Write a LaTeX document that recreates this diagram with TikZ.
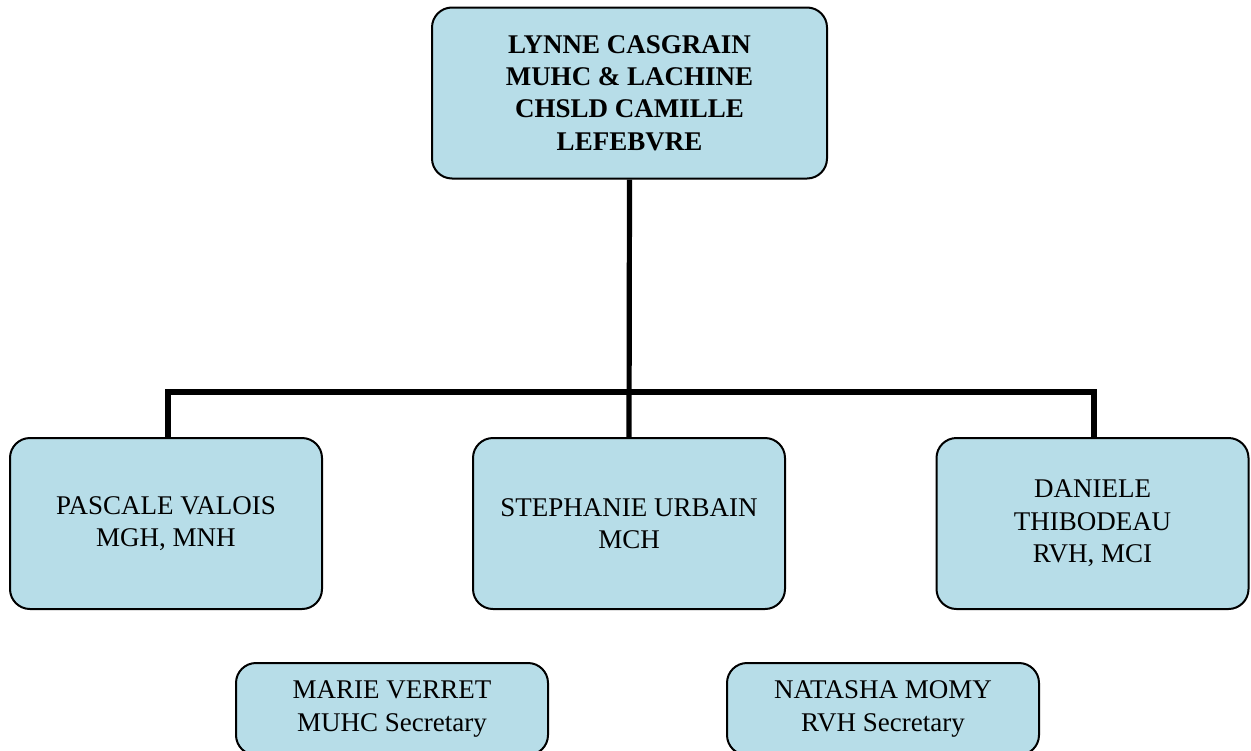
\documentclass[tikz,border=0pt]{standalone}
\usepackage{fontspec}
\setmainfont{Liberation Serif}
\usetikzlibrary{calc}
\definecolor{boxblue}{HTML}{B7DDE8}

\begin{document}
\begin{tikzpicture}[x=0.5pt,y=-0.5pt,
    person/.style={draw=black, line width=1pt, fill=boxblue, rounded corners=10pt,
      align=center, minimum width=156pt, minimum height=85.5pt, inner sep=0pt,
      font=\fontsize{13.5}{16.2}\selectfont},
    link/.style={line width=2.6pt}]
    \useasboundingbox (0,0) rectangle (1251,750);
    \clip (0,0) rectangle (1251,750);
    \node[person, minimum width=197.5pt, font=\fontsize{13.5}{16.2}\selectfont\bfseries] (head) at (629.5,93)
      {LYNNE CASGRAIN\\MUHC \& LACHINE\\CHSLD CAMILLE\\LEFEBVRE};
    \node[person] (valois) at (166,523.5) {PASCALE VALOIS\\MGH, MNH};
    \node[person] (urbain) at (629,523.5) {STEPHANIE URBAIN\\MCH};
    \node[person] (thibodeau) at (1092.5,523.5) {DANIELE\\THIBODEAU\\RVH, MCI};
    \node[person, minimum height=46pt] (verret) at (392,709) {MARIE VERRET\\MUHC Secretary};
    \node[person, minimum height=46pt] (momy) at (883,709) {NATASHA MOMY\\RVH Secretary};
    % Branch lines
    \coordinate (fork) at (629,392);
    \draw[link] (head.south) -- (urbain.north);
    \draw[link] (valois.north -| 168,0) |- (fork) -| (thibodeau.north -| 1094,0);
\end{tikzpicture}
\end{document}
